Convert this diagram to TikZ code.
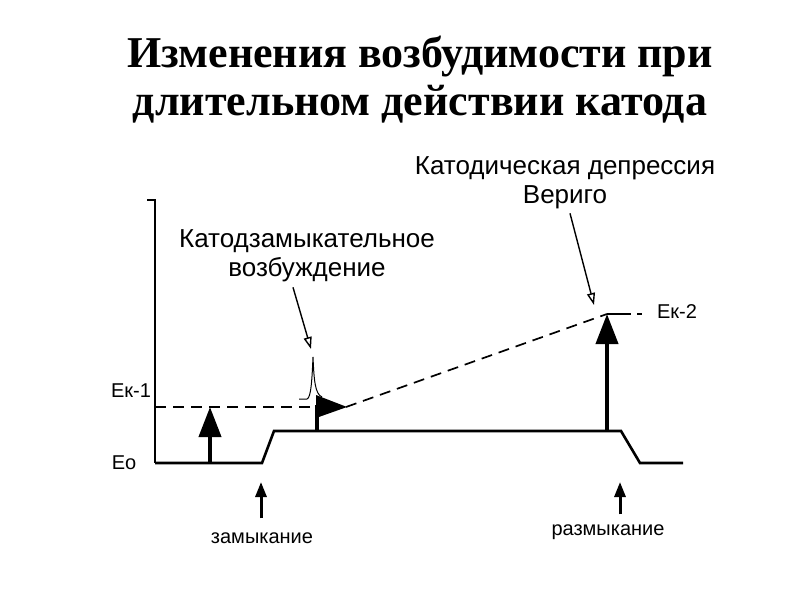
\documentclass[tikz,border=0pt]{standalone}
\usepackage{fontspec}
\setmainfont{Liberation Serif}
\setsansfont{Liberation Sans}
\usetikzlibrary{arrows.meta}

\begin{document}
\begin{tikzpicture}[
    x=1pt, y=-1pt,
    curve/.style={line width=2.6pt},
    level/.style={line width=1.7pt, dash pattern=on 11pt off 7pt},
    stim/.style={line width=4pt, -{Triangle[length=30pt, width=22pt]}},
    switcharr/.style={line width=3pt, -{Triangle[length=15pt, width=11pt]}},
    pointer/.style={line width=1.4pt, -{Triangle[open, length=12pt, width=8pt]}},
    lbl/.style={font=\sffamily\fontsize{20}{22}\selectfont, inner sep=0pt},
    capt/.style={font=\sffamily\fontsize{26}{29}\selectfont, align=center, inner sep=1pt},
]
    \useasboundingbox (0,0) rectangle (800,600);

    % Title
    \node[font=\bfseries\fontsize{44}{48}\selectfont, align=center] (title) at (420,80)
        {Изменения возбудимости при\\длительном действии катода};

    % Axis and level labels
    \draw[curve] (147,200) -- (155,200) -- (155,463);
    \node[lbl] (ek1) at (131,391) {Ек-1};
    \node[lbl] (eo)  at (124,463) {Ео};
    \node[lbl] (ek2) at (677,312) {Ек-2};

    % Excitability curve
    \draw[curve] (155,463) -- (262,463) -- (274,431) -- (621,431) -- (640,463) -- (683,463);

    % Thresholds
    \draw[level] (155,407) -- (318,407);
    \draw[level] (346,407) -- (607,314);
    \draw[curve, line width=2pt] (607,314) -- (631,314);
    \draw[curve, line width=2pt] (637,314) -- (642,314);

    % Stimuli
    \draw[stim] (210,463) -- (210,407);
    \draw[line width=4pt] (317,431) -- (317,405);
    \fill (316,395) -- (347,407) -- (316,418) -- cycle;
    \draw[stim] (607,431) -- (607,314);

    % Spike
    \draw[line width=1pt] (299,399) -- (307,399) .. controls (311,398) and (312,380) .. (313,357)
        .. controls (314,380) and (315,394) .. (322,397);

    % Captions
    \node[capt] (excit) at (307,256) {Катодзамыкательное\\возбуждение};
    \node[capt] (depr)  at (565,183) {Катодическая депрессия\\Вериго};
    \coordinate (spike) at (311,349);
    \coordinate (top2)  at (594,305);
    \draw[pointer] ([xshift=-14pt, yshift=-4pt]excit.south) -- (spike);
    \draw[pointer] ([xshift=5pt, yshift=-3pt]depr.south) -- (top2);

    % Closing and opening
    \node[lbl] (close) at (262,538) {замыкание};
    \node[lbl] (open)  at (608,532) {размыкание};
    \coordinate (on)  at (261,482);
    \coordinate (off) at (620,482);
    \draw[switcharr] ([yshift=14pt]close.north -| on) -- (on);
    \draw[switcharr] ([yshift=10pt]open.north -| off) -- (off);
\end{tikzpicture}
\end{document}
